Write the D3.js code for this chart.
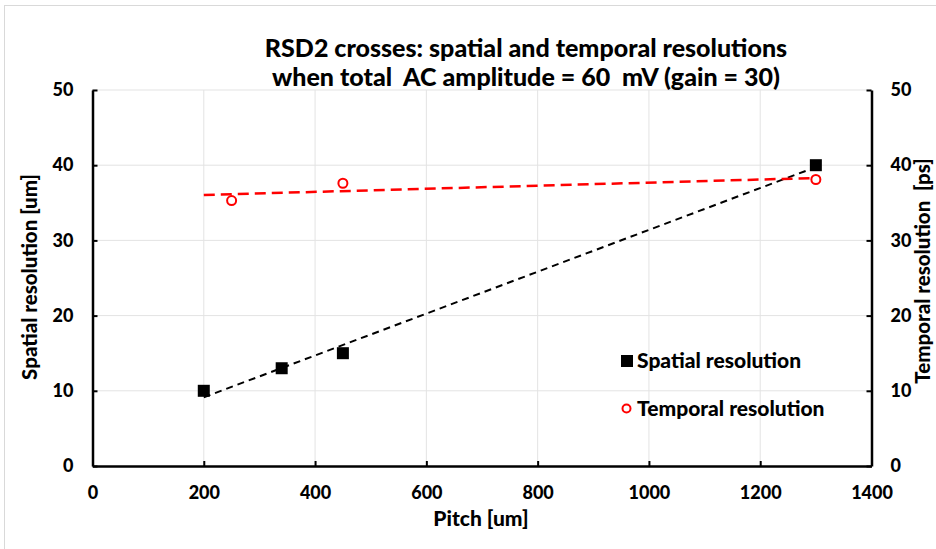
<!DOCTYPE html>
<html>
<head>
<meta charset="utf-8">
<script src="https://cdn.jsdelivr.net/npm/d3@7"></script>
<style>
  body { margin: 0; background: #fff; }
  svg text { font-family: Lato, "DejaVu Sans", sans-serif; font-weight: 900; fill: #000; }
</style>
</head>
<body>
<svg id="chart"></svg>
<script>
//chart data
const pitch = [200, 340, 450, 1300];
const spatial = [10, 13, 15, 40];
const tPitch = [250, 450, 1300];
const temporal = [35.3, 37.6, 38.1];
const xTicks = [0, 200, 400, 600, 800, 1000, 1200, 1400];
const yTicks = [0, 10, 20, 30, 40, 50];
const trendRange = [200, 1300];

const w = 936;
const h = 549;
const m = { left: 92.5, right: 871.5, top: 90, bottom: 466 };

const svg = d3.select('#chart')
    .attr('width', w)
    .attr('height', h);

//light frame on top and left edge
svg.append('line').attr('x1', 4).attr('x2', w).attr('y1', 5.5).attr('y2', 5.5)
    .attr('stroke', '#d9d9d9').attr('stroke-width', 1);
svg.append('line').attr('x1', 4.5).attr('x2', 4.5).attr('y1', 5).attr('y2', h)
    .attr('stroke', '#d9d9d9').attr('stroke-width', 1);

const x = d3.scaleLinear().domain([0, 1400]).range([m.left, m.right]);
const y = d3.scaleLinear().domain([0, 50]).range([m.bottom, m.top]);
const y2 = d3.scaleLinear().domain([0, 50]).range([m.bottom, m.top]);

//gridlines
svg.append('g')
    .selectAll('line.v')
    .data(xTicks.slice(1, -1))
    .enter().append('line')
    .attr('x1', d => x(d)).attr('x2', d => x(d))
    .attr('y1', m.top).attr('y2', m.bottom)
    .attr('stroke', '#e3e3e3').attr('stroke-width', 1);
svg.append('g')
    .selectAll('line.h')
    .data(yTicks.slice(1))
    .enter().append('line')
    .attr('x1', m.left).attr('x2', m.right)
    .attr('y1', d => y(d)).attr('y2', d => y(d))
    .attr('stroke', '#e3e3e3').attr('stroke-width', 1);

//axes
const xAxis = d3.axisBottom(x).tickValues(xTicks).tickFormat(d3.format('d'))
    .tickSizeInner(-5).tickSizeOuter(0).tickPadding(20);
const yAxis = d3.axisLeft(y).tickValues(yTicks).tickFormat(d3.format('d'))
    .tickSizeInner(-5).tickSizeOuter(0).tickPadding(19);
const yAxis2 = d3.axisRight(y2).tickValues(yTicks).tickFormat(d3.format('d'))
    .tickSizeInner(-5).tickSizeOuter(0).tickPadding(19);

function styleAxis(g) {
    g.select('.domain').attr('stroke', '#000').attr('stroke-width', 2.5);
    g.selectAll('.tick line').attr('stroke', '#000').attr('stroke-width', 2);
    g.selectAll('.tick text').style('font-size', '18px').attr('fill', '#000');
}

svg.append('g').attr('transform', 'translate(0,' + m.bottom + ')').call(xAxis).call(styleAxis)
    .selectAll('.tick line').filter(d => d === 0 || d === 1400).remove();
svg.append('g').attr('transform', 'translate(' + m.left + ',0)').call(yAxis).call(styleAxis);
svg.append('g').attr('transform', 'translate(' + m.right + ',0)').call(yAxis2).call(styleAxis);

//linear trendlines (least squares)
function fit(xs, ys) {
    const mx = d3.mean(xs), my = d3.mean(ys);
    const sxy = d3.sum(xs, (v, i) => (v - mx) * (ys[i] - my));
    const sxx = d3.sum(xs, v => (v - mx) * (v - mx));
    const b = sxy / sxx;
    return v => my + b * (v - mx);
}
const fS = fit(pitch, spatial);
const fT = fit(tPitch, temporal);
const line = d3.line().x(d => x(d[0])).y(d => y(d[1]));

svg.append('path')
    .datum(trendRange.map(v => [v, fS(v)]))
    .attr('d', line)
    .attr('fill', 'none').attr('stroke', '#000')
    .attr('stroke-width', 2).attr('stroke-dasharray', '7,5');
svg.append('path')
    .datum(trendRange.map(v => [v, fT(v)]))
    .attr('d', line)
    .attr('fill', 'none').attr('stroke', '#ff0000')
    .attr('stroke-width', 2.5).attr('stroke-dasharray', '11,6');

//points
const sz = 12;
svg.selectAll('rect.pt')
    .data(pitch)
    .enter().append('rect')
    .attr('x', (d) => x(d) - sz / 2)
    .attr('y', (d, i) => y(spatial[i]) - sz / 2)
    .attr('width', sz).attr('height', sz)
    .attr('fill', '#000');
svg.selectAll('circle.pt')
    .data(tPitch)
    .enter().append('circle')
    .attr('cx', d => x(d))
    .attr('cy', (d, i) => y2(temporal[i]))
    .attr('r', 4.5)
    .attr('fill', '#fff').attr('stroke', '#ff0000').attr('stroke-width', 2);

//title
svg.append('text').attr('x', 526).attr('y', 57).attr('text-anchor', 'middle')
    .style('font-size', '25px').text('RSD2 crosses: spatial and temporal resolutions');
svg.append('text').attr('x', 526).attr('y', 86).attr('text-anchor', 'middle')
    .style('font-size', '25px').style('white-space', 'pre').attr('xml:space', 'preserve')
    .text('when total  AC amplitude = 60  mV (gain = 30)');

//axis titles
svg.append('text').attr('transform', 'translate(37,277) rotate(-90)').attr('text-anchor', 'middle')
    .style('font-size', '20.5px').text('Spatial resolution [um]');
svg.append('text').attr('transform', 'translate(930,271) rotate(-90)').attr('text-anchor', 'middle')
    .style('font-size', '20.5px').style('white-space', 'pre').attr('xml:space', 'preserve')
    .text('Temporal resolution  [ps]');
svg.append('text').attr('x', 481).attr('y', 526).attr('text-anchor', 'middle')
    .style('font-size', '21px').text('Pitch [um]');

//legend
const legend = svg.append('g').attr('id', 'legend');
legend.append('rect').attr('x', 621).attr('y', 355).attr('width', 12).attr('height', 12).attr('fill', '#000');
legend.append('text').attr('x', 637).attr('y', 368).style('font-size', '21px').text('Spatial resolution');
legend.append('circle').attr('cx', 626.5).attr('cy', 408.5).attr('r', 4)
    .attr('fill', '#fff').attr('stroke', '#ff0000').attr('stroke-width', 2);
legend.append('text').attr('x', 637).attr('y', 416).style('font-size', '21px').text('Temporal resolution');
</script>
</body>
</html>
